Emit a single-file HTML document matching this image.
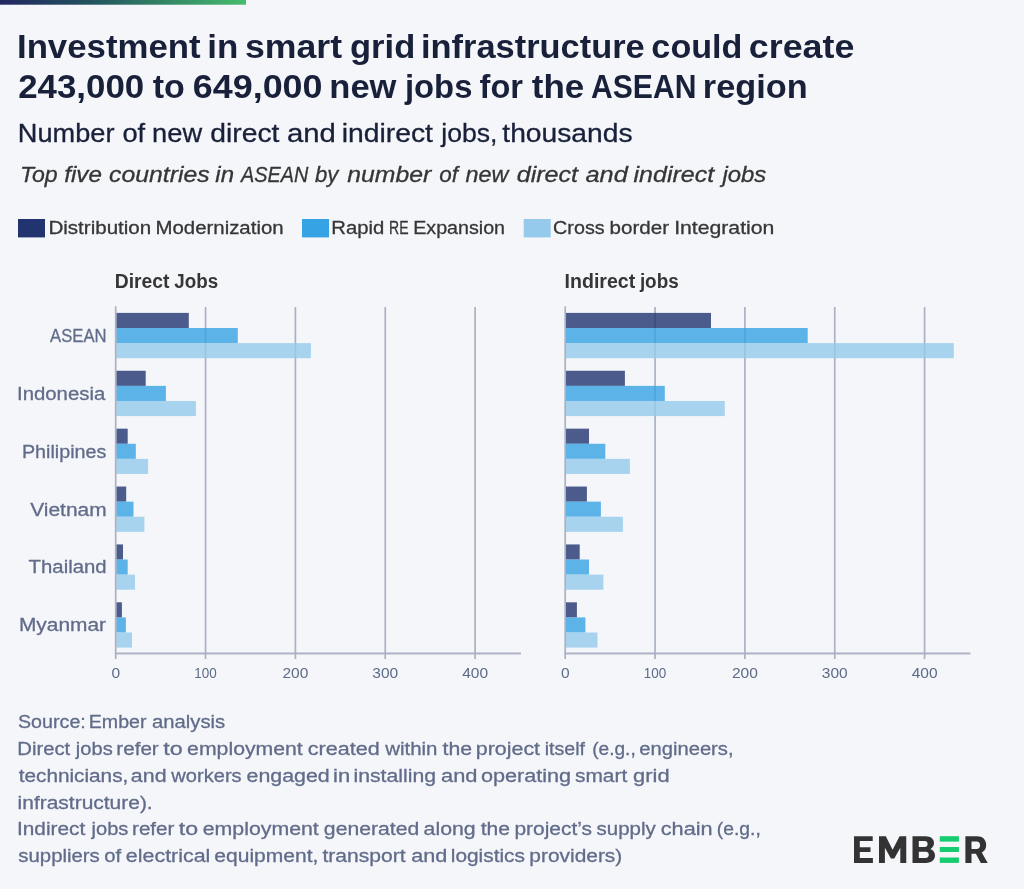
<!DOCTYPE html>
<html><head><meta charset="utf-8"><style>
html,body{margin:0;padding:0;background:#f5f6fa;}
body{width:1024px;height:889px;overflow:hidden;}
svg{display:block;will-change:transform;font-family:"Liberation Sans",sans-serif;}
</style></head><body>
<svg width="1024" height="889" viewBox="0 0 1024 889">
<rect width="1024" height="889" fill="#f5f6fa"/>
<defs><linearGradient id="tg" x1="0" x2="1" y1="0" y2="0"><stop offset="0" stop-color="#222660"/><stop offset="0.35" stop-color="#22505f"/><stop offset="1" stop-color="#46bd6c"/></linearGradient></defs>
<rect x="0" y="0" width="246" height="4.7" fill="url(#tg)"/>
<rect x="18" y="219" width="27" height="18.4" fill="#213470"/>
<rect x="302" y="219" width="27" height="18.4" fill="#36a3e4"/>
<rect x="523.7" y="219" width="27" height="18.4" fill="#95caec"/>
<rect x="204.70" y="307" width="1.7" height="352" fill="#aab1c4"/>
<rect x="294.55" y="307" width="1.7" height="352" fill="#aab1c4"/>
<rect x="384.40" y="307" width="1.7" height="352" fill="#aab1c4"/>
<rect x="474.25" y="307" width="1.7" height="352" fill="#aab1c4"/>
<rect x="116.20" y="312.90" width="72.60" height="15.1" fill="#213470" fill-opacity="0.8"/>
<rect x="116.20" y="328.00" width="121.60" height="15.1" fill="#36a3e4" fill-opacity="0.8"/>
<rect x="116.20" y="343.10" width="194.70" height="15.1" fill="#95caec" fill-opacity="0.8"/>
<rect x="116.20" y="370.78" width="29.50" height="15.1" fill="#213470" fill-opacity="0.8"/>
<rect x="116.20" y="385.88" width="49.70" height="15.1" fill="#36a3e4" fill-opacity="0.8"/>
<rect x="116.20" y="400.98" width="79.70" height="15.1" fill="#95caec" fill-opacity="0.8"/>
<rect x="116.20" y="428.66" width="11.50" height="15.1" fill="#213470" fill-opacity="0.8"/>
<rect x="116.20" y="443.76" width="19.60" height="15.1" fill="#36a3e4" fill-opacity="0.8"/>
<rect x="116.20" y="458.86" width="31.90" height="15.1" fill="#95caec" fill-opacity="0.8"/>
<rect x="116.20" y="486.54" width="10.00" height="15.1" fill="#213470" fill-opacity="0.8"/>
<rect x="116.20" y="501.64" width="17.30" height="15.1" fill="#36a3e4" fill-opacity="0.8"/>
<rect x="116.20" y="516.74" width="28.20" height="15.1" fill="#95caec" fill-opacity="0.8"/>
<rect x="116.20" y="544.42" width="6.80" height="15.1" fill="#213470" fill-opacity="0.8"/>
<rect x="116.20" y="559.52" width="11.50" height="15.1" fill="#36a3e4" fill-opacity="0.8"/>
<rect x="116.20" y="574.62" width="18.80" height="15.1" fill="#95caec" fill-opacity="0.8"/>
<rect x="116.20" y="602.30" width="5.70" height="15.1" fill="#213470" fill-opacity="0.8"/>
<rect x="116.20" y="617.40" width="9.70" height="15.1" fill="#36a3e4" fill-opacity="0.8"/>
<rect x="116.20" y="632.50" width="15.80" height="15.1" fill="#95caec" fill-opacity="0.8"/>
<rect x="114.85" y="306.3" width="1.7" height="352.7" fill="#aab1c4"/>
<rect x="114.85" y="652.5" width="406.05" height="1.9" fill="#aab1c4"/>
<text x="115.70" y="678" font-size="15.5" fill="#5d6a88" text-anchor="middle">0</text>
<text x="205.55" y="678" font-size="15.5" fill="#5d6a88" text-anchor="middle" textLength="22.5" lengthAdjust="spacingAndGlyphs">100</text>
<text x="295.40" y="678" font-size="15.5" fill="#5d6a88" text-anchor="middle">200</text>
<text x="385.25" y="678" font-size="15.5" fill="#5d6a88" text-anchor="middle">300</text>
<text x="475.10" y="678" font-size="15.5" fill="#5d6a88" text-anchor="middle">400</text>
<rect x="654.20" y="307" width="1.7" height="352" fill="#aab1c4"/>
<rect x="744.05" y="307" width="1.7" height="352" fill="#aab1c4"/>
<rect x="833.90" y="307" width="1.7" height="352" fill="#aab1c4"/>
<rect x="923.75" y="307" width="1.7" height="352" fill="#aab1c4"/>
<rect x="565.70" y="312.90" width="145.30" height="15.1" fill="#213470" fill-opacity="0.8"/>
<rect x="565.70" y="328.00" width="242.00" height="15.1" fill="#36a3e4" fill-opacity="0.8"/>
<rect x="565.70" y="343.10" width="388.10" height="15.1" fill="#95caec" fill-opacity="0.8"/>
<rect x="565.70" y="370.78" width="59.20" height="15.1" fill="#213470" fill-opacity="0.8"/>
<rect x="565.70" y="385.88" width="99.10" height="15.1" fill="#36a3e4" fill-opacity="0.8"/>
<rect x="565.70" y="400.98" width="159.10" height="15.1" fill="#95caec" fill-opacity="0.8"/>
<rect x="565.70" y="428.66" width="23.30" height="15.1" fill="#213470" fill-opacity="0.8"/>
<rect x="565.70" y="443.76" width="39.60" height="15.1" fill="#36a3e4" fill-opacity="0.8"/>
<rect x="565.70" y="458.86" width="64.20" height="15.1" fill="#95caec" fill-opacity="0.8"/>
<rect x="565.70" y="486.54" width="21.20" height="15.1" fill="#213470" fill-opacity="0.8"/>
<rect x="565.70" y="501.64" width="35.20" height="15.1" fill="#36a3e4" fill-opacity="0.8"/>
<rect x="565.70" y="516.74" width="57.20" height="15.1" fill="#95caec" fill-opacity="0.8"/>
<rect x="565.70" y="544.42" width="14.00" height="15.1" fill="#213470" fill-opacity="0.8"/>
<rect x="565.70" y="559.52" width="23.30" height="15.1" fill="#36a3e4" fill-opacity="0.8"/>
<rect x="565.70" y="574.62" width="37.70" height="15.1" fill="#95caec" fill-opacity="0.8"/>
<rect x="565.70" y="602.30" width="11.20" height="15.1" fill="#213470" fill-opacity="0.8"/>
<rect x="565.70" y="617.40" width="19.70" height="15.1" fill="#36a3e4" fill-opacity="0.8"/>
<rect x="565.70" y="632.50" width="31.80" height="15.1" fill="#95caec" fill-opacity="0.8"/>
<rect x="564.35" y="306.3" width="1.7" height="352.7" fill="#aab1c4"/>
<rect x="564.35" y="652.5" width="406.05" height="1.9" fill="#aab1c4"/>
<text x="565.20" y="678" font-size="15.5" fill="#5d6a88" text-anchor="middle">0</text>
<text x="655.05" y="678" font-size="15.5" fill="#5d6a88" text-anchor="middle" textLength="22.5" lengthAdjust="spacingAndGlyphs">100</text>
<text x="744.90" y="678" font-size="15.5" fill="#5d6a88" text-anchor="middle">200</text>
<text x="834.75" y="678" font-size="15.5" fill="#5d6a88" text-anchor="middle">300</text>
<text x="924.60" y="678" font-size="15.5" fill="#5d6a88" text-anchor="middle">400</text>
<text x="16.98" y="58.00" font-size="32.5" fill="#19213a" font-weight="bold" textLength="183.59" lengthAdjust="spacingAndGlyphs">Investment</text>
<text x="207.38" y="58.00" font-size="32.5" fill="#19213a" font-weight="bold" textLength="31.07" lengthAdjust="spacingAndGlyphs">in</text>
<text x="244.94" y="58.00" font-size="32.5" fill="#19213a" font-weight="bold" textLength="97.17" lengthAdjust="spacingAndGlyphs">smart</text>
<text x="350.01" y="58.00" font-size="32.5" fill="#19213a" font-weight="bold" textLength="65.23" lengthAdjust="spacingAndGlyphs">grid</text>
<text x="421.06" y="58.00" font-size="32.5" fill="#19213a" font-weight="bold" textLength="223.66" lengthAdjust="spacingAndGlyphs">infrastructure</text>
<text x="651.38" y="58.00" font-size="32.5" fill="#19213a" font-weight="bold" textLength="91.11" lengthAdjust="spacingAndGlyphs">could</text>
<text x="748.89" y="58.00" font-size="32.5" fill="#19213a" font-weight="bold" textLength="105.47" lengthAdjust="spacingAndGlyphs">create</text>
<text x="18.17" y="98.00" font-size="32.5" fill="#19213a" font-weight="bold" textLength="126.03" lengthAdjust="spacingAndGlyphs">243,000</text>
<text x="152.79" y="98.00" font-size="32.5" fill="#19213a" font-weight="bold" textLength="32.12" lengthAdjust="spacingAndGlyphs">to</text>
<text x="192.84" y="98.00" font-size="32.5" fill="#19213a" font-weight="bold" textLength="129.64" lengthAdjust="spacingAndGlyphs">649,000</text>
<text x="329.34" y="98.00" font-size="32.5" fill="#19213a" font-weight="bold" textLength="67.10" lengthAdjust="spacingAndGlyphs">new</text>
<text x="404.92" y="98.00" font-size="32.5" fill="#19213a" font-weight="bold" textLength="67.49" lengthAdjust="spacingAndGlyphs">jobs</text>
<text x="479.6" y="98.00" font-size="32.5" fill="#19213a" font-weight="bold" textLength="43.42" lengthAdjust="spacingAndGlyphs">for</text>
<text x="531.85" y="98.00" font-size="32.5" fill="#19213a" font-weight="bold" textLength="52.41" lengthAdjust="spacingAndGlyphs">the</text>
<text x="591.07" y="98.00" font-size="32.5" fill="#19213a" font-weight="bold" textLength="105.32" lengthAdjust="spacingAndGlyphs">ASEAN</text>
<text x="702.84" y="98.00" font-size="32.5" fill="#19213a" font-weight="bold" textLength="104.75" lengthAdjust="spacingAndGlyphs">region</text>
<text x="17.86" y="142.00" font-size="25.2" fill="#19213a" textLength="96.63" lengthAdjust="spacingAndGlyphs" stroke="#19213a" stroke-width="0.3">Number</text>
<text x="122.45" y="142.00" font-size="25.2" fill="#19213a" textLength="22.74" lengthAdjust="spacingAndGlyphs" stroke="#19213a" stroke-width="0.3">of</text>
<text x="152.1" y="142.00" font-size="25.2" fill="#19213a" textLength="50.03" lengthAdjust="spacingAndGlyphs" stroke="#19213a" stroke-width="0.3">new</text>
<text x="210.34" y="142.00" font-size="25.2" fill="#19213a" textLength="69.10" lengthAdjust="spacingAndGlyphs" stroke="#19213a" stroke-width="0.3">direct</text>
<text x="286.91" y="142.00" font-size="25.2" fill="#19213a" textLength="48.93" lengthAdjust="spacingAndGlyphs" stroke="#19213a" stroke-width="0.3">and</text>
<text x="341.73" y="142.00" font-size="25.2" fill="#19213a" textLength="91.26" lengthAdjust="spacingAndGlyphs" stroke="#19213a" stroke-width="0.3">indirect</text>
<text x="441.3" y="142.00" font-size="25.2" fill="#19213a" textLength="56.22" lengthAdjust="spacingAndGlyphs" stroke="#19213a" stroke-width="0.3">jobs,</text>
<text x="502.33" y="142.00" font-size="25.2" fill="#19213a" textLength="130.16" lengthAdjust="spacingAndGlyphs" stroke="#19213a" stroke-width="0.3">thousands</text>
<text x="19.91" y="181.60" font-size="22.3" fill="#363636" font-style="italic" textLength="37.63" lengthAdjust="spacingAndGlyphs" stroke="#363636" stroke-width="0.3">Top</text>
<text x="64.19" y="181.60" font-size="22.3" fill="#363636" font-style="italic" textLength="37.67" lengthAdjust="spacingAndGlyphs" stroke="#363636" stroke-width="0.3">five</text>
<text x="109.05" y="181.60" font-size="22.3" fill="#363636" font-style="italic" textLength="100.60" lengthAdjust="spacingAndGlyphs" stroke="#363636" stroke-width="0.3">countries</text>
<text x="215.36" y="181.60" font-size="22.3" fill="#363636" font-style="italic" textLength="18.71" lengthAdjust="spacingAndGlyphs" stroke="#363636" stroke-width="0.3">in</text>
<text x="240.91" y="181.60" font-size="22.3" fill="#363636" font-style="italic" textLength="67.31" lengthAdjust="spacingAndGlyphs" stroke="#363636" stroke-width="0.3">ASEAN</text>
<text x="314.93" y="181.60" font-size="22.3" fill="#363636" font-style="italic" textLength="23.40" lengthAdjust="spacingAndGlyphs" stroke="#363636" stroke-width="0.3">by</text>
<text x="347.26" y="181.60" font-size="22.3" fill="#363636" font-style="italic" textLength="83.96" lengthAdjust="spacingAndGlyphs" stroke="#363636" stroke-width="0.3">number</text>
<text x="439.33" y="181.60" font-size="22.3" fill="#363636" font-style="italic" textLength="18.76" lengthAdjust="spacingAndGlyphs" stroke="#363636" stroke-width="0.3">of</text>
<text x="465.51" y="181.60" font-size="22.3" fill="#363636" font-style="italic" textLength="42.95" lengthAdjust="spacingAndGlyphs" stroke="#363636" stroke-width="0.3">new</text>
<text x="516.73" y="181.60" font-size="22.3" fill="#363636" font-style="italic" textLength="61.37" lengthAdjust="spacingAndGlyphs" stroke="#363636" stroke-width="0.3">direct</text>
<text x="585.45" y="181.60" font-size="22.3" fill="#363636" font-style="italic" textLength="42.30" lengthAdjust="spacingAndGlyphs" stroke="#363636" stroke-width="0.3">and</text>
<text x="633.5" y="181.60" font-size="22.3" fill="#363636" font-style="italic" textLength="80.73" lengthAdjust="spacingAndGlyphs" stroke="#363636" stroke-width="0.3">indirect</text>
<text x="722.4" y="181.60" font-size="22.3" fill="#363636" font-style="italic" textLength="43.81" lengthAdjust="spacingAndGlyphs" stroke="#363636" stroke-width="0.3">jobs</text>
<text x="48.42" y="233.60" font-size="18.7" fill="#363636" textLength="102.85" lengthAdjust="spacingAndGlyphs" stroke="#363636" stroke-width="0.3">Distribution</text>
<text x="155.46" y="233.60" font-size="18.7" fill="#363636" textLength="128.16" lengthAdjust="spacingAndGlyphs" stroke="#363636" stroke-width="0.3">Modernization</text>
<text x="331.28" y="233.60" font-size="18.7" fill="#363636" textLength="52.99" lengthAdjust="spacingAndGlyphs" stroke="#363636" stroke-width="0.3">Rapid</text>
<text x="389.07" y="233.60" font-size="18.7" fill="#363636" textLength="19.48" lengthAdjust="spacingAndGlyphs" stroke="#363636" stroke-width="0.3">RE</text>
<text x="413.2" y="233.60" font-size="18.7" fill="#363636" textLength="91.85" lengthAdjust="spacingAndGlyphs" stroke="#363636" stroke-width="0.3">Expansion</text>
<text x="553.09" y="233.60" font-size="18.7" fill="#363636" textLength="51.55" lengthAdjust="spacingAndGlyphs" stroke="#363636" stroke-width="0.3">Cross</text>
<text x="609.64" y="233.60" font-size="18.7" fill="#363636" textLength="59.50" lengthAdjust="spacingAndGlyphs" stroke="#363636" stroke-width="0.3">border</text>
<text x="674.15" y="233.60" font-size="18.7" fill="#363636" textLength="100.21" lengthAdjust="spacingAndGlyphs" stroke="#363636" stroke-width="0.3">Integration</text>
<text x="114.8" y="288.00" font-size="19.5" fill="#363636" font-weight="bold" textLength="54.73" lengthAdjust="spacingAndGlyphs">Direct</text>
<text x="174.34" y="288.00" font-size="19.5" fill="#363636" font-weight="bold" textLength="43.85" lengthAdjust="spacingAndGlyphs">Jobs</text>
<text x="564.56" y="288.00" font-size="19.5" fill="#363636" font-weight="bold" textLength="70.73" lengthAdjust="spacingAndGlyphs">Indirect</text>
<text x="639.88" y="288.00" font-size="19.5" fill="#363636" font-weight="bold" textLength="38.84" lengthAdjust="spacingAndGlyphs">jobs</text>
<text x="17.97" y="727.70" font-size="18.75" fill="#616c8a" textLength="67.86" lengthAdjust="spacingAndGlyphs" stroke="#616c8a" stroke-width="0.3">Source:</text>
<text x="88.8" y="727.70" font-size="18.75" fill="#616c8a" textLength="57.67" lengthAdjust="spacingAndGlyphs" stroke="#616c8a" stroke-width="0.3">Ember</text>
<text x="152.06" y="727.70" font-size="18.75" fill="#616c8a" textLength="73.18" lengthAdjust="spacingAndGlyphs" stroke="#616c8a" stroke-width="0.3">analysis</text>
<text x="17.32" y="754.64" font-size="18.75" fill="#616c8a" textLength="52.89" lengthAdjust="spacingAndGlyphs" stroke="#616c8a" stroke-width="0.3">Direct</text>
<text x="75.86" y="754.64" font-size="18.75" fill="#616c8a" textLength="36.81" lengthAdjust="spacingAndGlyphs" stroke="#616c8a" stroke-width="0.3">jobs</text>
<text x="116.31" y="754.64" font-size="18.75" fill="#616c8a" textLength="42.46" lengthAdjust="spacingAndGlyphs" stroke="#616c8a" stroke-width="0.3">refer</text>
<text x="163.37" y="754.64" font-size="18.75" fill="#616c8a" textLength="19.43" lengthAdjust="spacingAndGlyphs" stroke="#616c8a" stroke-width="0.3">to</text>
<text x="187.13" y="754.64" font-size="18.75" fill="#616c8a" textLength="115.63" lengthAdjust="spacingAndGlyphs" stroke="#616c8a" stroke-width="0.3">employment</text>
<text x="307.73" y="754.64" font-size="18.75" fill="#616c8a" textLength="71.96" lengthAdjust="spacingAndGlyphs" stroke="#616c8a" stroke-width="0.3">created</text>
<text x="385.2" y="754.64" font-size="18.75" fill="#616c8a" textLength="52.27" lengthAdjust="spacingAndGlyphs" stroke="#616c8a" stroke-width="0.3">within</text>
<text x="442.56" y="754.64" font-size="18.75" fill="#616c8a" textLength="29.59" lengthAdjust="spacingAndGlyphs" stroke="#616c8a" stroke-width="0.3">the</text>
<text x="475.81" y="754.64" font-size="18.75" fill="#616c8a" textLength="64.26" lengthAdjust="spacingAndGlyphs" stroke="#616c8a" stroke-width="0.3">project</text>
<text x="544.7" y="754.64" font-size="18.75" fill="#616c8a" textLength="40.34" lengthAdjust="spacingAndGlyphs" stroke="#616c8a" stroke-width="0.3">itself</text>
<text x="592.19" y="754.64" font-size="18.75" fill="#616c8a" textLength="43.54" lengthAdjust="spacingAndGlyphs" stroke="#616c8a" stroke-width="0.3">(e.g.,</text>
<text x="639.23" y="754.64" font-size="18.75" fill="#616c8a" textLength="94.35" lengthAdjust="spacingAndGlyphs" stroke="#616c8a" stroke-width="0.3">engineers,</text>
<text x="18.7" y="781.58" font-size="18.75" fill="#616c8a" textLength="109.62" lengthAdjust="spacingAndGlyphs" stroke="#616c8a" stroke-width="0.3">technicians,</text>
<text x="130.87" y="781.58" font-size="18.75" fill="#616c8a" textLength="35.67" lengthAdjust="spacingAndGlyphs" stroke="#616c8a" stroke-width="0.3">and</text>
<text x="171.38" y="781.58" font-size="18.75" fill="#616c8a" textLength="70.28" lengthAdjust="spacingAndGlyphs" stroke="#616c8a" stroke-width="0.3">workers</text>
<text x="246.61" y="781.58" font-size="18.75" fill="#616c8a" textLength="83.11" lengthAdjust="spacingAndGlyphs" stroke="#616c8a" stroke-width="0.3">engaged</text>
<text x="333.06" y="781.58" font-size="18.75" fill="#616c8a" textLength="17.16" lengthAdjust="spacingAndGlyphs" stroke="#616c8a" stroke-width="0.3">in</text>
<text x="353.48" y="781.58" font-size="18.75" fill="#616c8a" textLength="82.57" lengthAdjust="spacingAndGlyphs" stroke="#616c8a" stroke-width="0.3">installing</text>
<text x="440.99" y="781.58" font-size="18.75" fill="#616c8a" textLength="36.48" lengthAdjust="spacingAndGlyphs" stroke="#616c8a" stroke-width="0.3">and</text>
<text x="480.91" y="781.58" font-size="18.75" fill="#616c8a" textLength="90.25" lengthAdjust="spacingAndGlyphs" stroke="#616c8a" stroke-width="0.3">operating</text>
<text x="574.95" y="781.58" font-size="18.75" fill="#616c8a" textLength="52.27" lengthAdjust="spacingAndGlyphs" stroke="#616c8a" stroke-width="0.3">smart</text>
<text x="633.14" y="781.58" font-size="18.75" fill="#616c8a" textLength="36.41" lengthAdjust="spacingAndGlyphs" stroke="#616c8a" stroke-width="0.3">grid</text>
<text x="17.59" y="808.52" font-size="18.75" fill="#616c8a" textLength="135.12" lengthAdjust="spacingAndGlyphs" stroke="#616c8a" stroke-width="0.3">infrastructure).</text>
<text x="17.02" y="835.46" font-size="18.75" fill="#616c8a" textLength="68.16" lengthAdjust="spacingAndGlyphs" stroke="#616c8a" stroke-width="0.3">Indirect</text>
<text x="91.54" y="835.46" font-size="18.75" fill="#616c8a" textLength="36.85" lengthAdjust="spacingAndGlyphs" stroke="#616c8a" stroke-width="0.3">jobs</text>
<text x="132.06" y="835.46" font-size="18.75" fill="#616c8a" textLength="42.38" lengthAdjust="spacingAndGlyphs" stroke="#616c8a" stroke-width="0.3">refer</text>
<text x="178.87" y="835.46" font-size="18.75" fill="#616c8a" textLength="19.33" lengthAdjust="spacingAndGlyphs" stroke="#616c8a" stroke-width="0.3">to</text>
<text x="202.68" y="835.46" font-size="18.75" fill="#616c8a" textLength="116.13" lengthAdjust="spacingAndGlyphs" stroke="#616c8a" stroke-width="0.3">employment</text>
<text x="323.89" y="835.46" font-size="18.75" fill="#616c8a" textLength="95.30" lengthAdjust="spacingAndGlyphs" stroke="#616c8a" stroke-width="0.3">generated</text>
<text x="423.62" y="835.46" font-size="18.75" fill="#616c8a" textLength="52.06" lengthAdjust="spacingAndGlyphs" stroke="#616c8a" stroke-width="0.3">along</text>
<text x="480.67" y="835.46" font-size="18.75" fill="#616c8a" textLength="29.28" lengthAdjust="spacingAndGlyphs" stroke="#616c8a" stroke-width="0.3">the</text>
<text x="514.41" y="835.46" font-size="18.75" fill="#616c8a" textLength="77.58" lengthAdjust="spacingAndGlyphs" stroke="#616c8a" stroke-width="0.3">project’s</text>
<text x="596.59" y="835.46" font-size="18.75" fill="#616c8a" textLength="59.16" lengthAdjust="spacingAndGlyphs" stroke="#616c8a" stroke-width="0.3">supply</text>
<text x="660.75" y="835.46" font-size="18.75" fill="#616c8a" textLength="51.88" lengthAdjust="spacingAndGlyphs" stroke="#616c8a" stroke-width="0.3">chain</text>
<text x="716.89" y="835.46" font-size="18.75" fill="#616c8a" textLength="43.90" lengthAdjust="spacingAndGlyphs" stroke="#616c8a" stroke-width="0.3">(e.g.,</text>
<text x="18.37" y="862.40" font-size="18.75" fill="#616c8a" textLength="81.40" lengthAdjust="spacingAndGlyphs" stroke="#616c8a" stroke-width="0.3">suppliers</text>
<text x="104.2" y="862.40" font-size="18.75" fill="#616c8a" textLength="16.93" lengthAdjust="spacingAndGlyphs" stroke="#616c8a" stroke-width="0.3">of</text>
<text x="125.89" y="862.40" font-size="18.75" fill="#616c8a" textLength="84.46" lengthAdjust="spacingAndGlyphs" stroke="#616c8a" stroke-width="0.3">electrical</text>
<text x="214.33" y="862.40" font-size="18.75" fill="#616c8a" textLength="104.14" lengthAdjust="spacingAndGlyphs" stroke="#616c8a" stroke-width="0.3">equipment,</text>
<text x="322.46" y="862.40" font-size="18.75" fill="#616c8a" textLength="83.23" lengthAdjust="spacingAndGlyphs" stroke="#616c8a" stroke-width="0.3">transport</text>
<text x="411.27" y="862.40" font-size="18.75" fill="#616c8a" textLength="36.15" lengthAdjust="spacingAndGlyphs" stroke="#616c8a" stroke-width="0.3">and</text>
<text x="450.81" y="862.40" font-size="18.75" fill="#616c8a" textLength="74.09" lengthAdjust="spacingAndGlyphs" stroke="#616c8a" stroke-width="0.3">logistics</text>
<text x="529.36" y="862.40" font-size="18.75" fill="#616c8a" textLength="92.89" lengthAdjust="spacingAndGlyphs" stroke="#616c8a" stroke-width="0.3">providers)</text>
<text x="50.09" y="342.12" font-size="18.9" fill="#616c8a" textLength="56.46" lengthAdjust="spacingAndGlyphs" stroke="#616c8a" stroke-width="0.3">ASEAN</text>
<text x="16.99" y="399.96" font-size="18.9" fill="#616c8a" textLength="88.28" lengthAdjust="spacingAndGlyphs" stroke="#616c8a" stroke-width="0.3">Indonesia</text>
<text x="21.97" y="457.80" font-size="18.9" fill="#616c8a" textLength="84.36" lengthAdjust="spacingAndGlyphs" stroke="#616c8a" stroke-width="0.3">Philipines</text>
<text x="30.22" y="515.64" font-size="18.9" fill="#616c8a" textLength="76.44" lengthAdjust="spacingAndGlyphs" stroke="#616c8a" stroke-width="0.3">Vietnam</text>
<text x="28.6" y="573.48" font-size="18.9" fill="#616c8a" textLength="78.06" lengthAdjust="spacingAndGlyphs" stroke="#616c8a" stroke-width="0.3">Thailand</text>
<text x="18.95" y="631.32" font-size="18.9" fill="#616c8a" textLength="87.15" lengthAdjust="spacingAndGlyphs" stroke="#616c8a" stroke-width="0.3">Myanmar</text>
<g>
<path fill="#333333" d="M854 836.2H872.7V841.1H859.8V847.2H870.5V852H859.8V857.9H872.9V862.9H854Z"/>
<path fill="#333333" d="M879 836.2L885.8 836.2L892.6 849.7L899.6 836.2L906.25 836.2L906.25 862.9L900.3 862.9L900.3 847.7L894.3 858.6L890.9 858.6L884.9 847.7L884.9 862.9L879 862.9Z"/>
<path fill="#333333" fill-rule="evenodd" d="M912.5 836.2H925.5C931 836.2 934 839 934 843C934 845.8 932.6 847.8 930.3 849C933.2 850 935 852.4 935 855.6C935 860 931.5 862.9 926 862.9H912.5ZM918.8 841V847.1H924.8C926.6 847.1 927.6 846 927.6 844.05C927.6 842.1 926.6 841 924.8 841ZM918.8 851.7V857.9H925.6C927.6 857.9 928.8 856.7 928.8 854.8C928.8 852.9 927.6 851.7 925.6 851.7Z"/>
<rect fill="#15cd6e" x="939.75" y="836.2" width="19.15" height="5.4"/>
<rect fill="#15cd6e" x="939.75" y="847" width="19.15" height="5"/>
<rect fill="#15cd6e" x="939.75" y="857.5" width="19.15" height="5.4"/>
<path fill="#333333" fill-rule="evenodd" d="M965.4 836.2H977C982.6 836.2 986.2 839.6 986.2 845C986.2 848.6 984.4 851.3 981.8 852.6L987.7 862.9H980.8L975.9 853.8H971.5V862.9H965.4ZM971.5 841.4V849H976.6C978.8 849 980.1 847.6 980.1 845.2C980.1 842.8 978.8 841.4 976.6 841.4Z"/>
</g>
</svg>
</body></html>
